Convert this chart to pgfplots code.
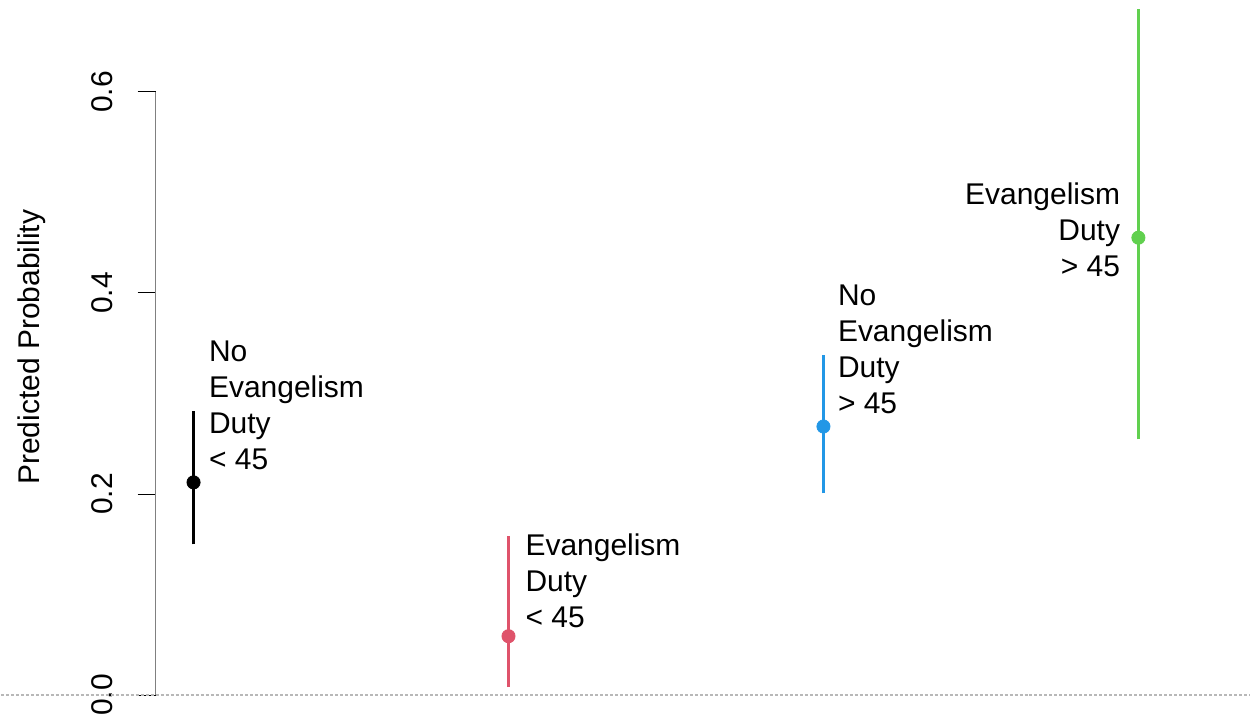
\documentclass[border=0pt]{standalone}
\usepackage{pgfplots}
\pgfplotsset{compat=1.18}
\usepackage{fontspec}
\setmainfont{Liberation Sans}
\definecolor{rred}{HTML}{DF536B}
\definecolor{rblue}{HTML}{2297E6}
\definecolor{rgreen}{HTML}{61D04F}
\begin{document}
\begin{tikzpicture}
\begin{axis}[
  scale only axis,
  width=548pt, height=361.5pt,
  xmin=0.8795, xmax=4.355,
  ymin=-0.0268, ymax=0.6914,
  clip=false,
  axis x line=none,
  axis y line*=left,
  y axis line style={draw=none},
  ytick={0,0.2,0.4,0.6},
  yticklabels={0.0,0.2,0.4,0.6},
  tick align=outside,
  major tick length=9pt,
  ytick style={black, line width=0.5pt},
  yticklabel style={rotate=90, anchor=south, font=\fontsize{15}{17}\selectfont},
  yticklabel shift=9pt,
  /pgf/number format/assume math mode=true,
  ylabel={Predicted Probability},
  every axis y label/.style={at={(axis cs:0.486,0.346)}, rotate=90, anchor=center, font=\fontsize{15}{17}\selectfont},
]
% y axis line (0 to 0.6)
\addplot[gray, line width=0.6pt, forget plot] coordinates {(0.8795,0) (0.8795,0.6)};
% dotted zero line
\addplot[black!28, line width=0.8pt, dash pattern=on 1.5pt off 1pt, forget plot] coordinates {(0.388,0) (4.355,0)};
% confidence intervals
\addplot[black, line width=1.1pt] coordinates {(1,0.150) (1,0.2831)};
\addplot[rred, line width=1.1pt] coordinates {(2,0.0079) (2,0.158)};
\addplot[rblue, line width=1.1pt] coordinates {(3,0.2007) (3,0.3387)};
\addplot[rgreen, line width=1.1pt] coordinates {(4,0.2543) (4,0.6824)};
% points
\addplot[only marks, mark=*, mark size=3.3pt, black] coordinates {(1,0.2116)};
\addplot[only marks, mark=*, mark size=3.3pt, rred, mark options={fill=rred}] coordinates {(2,0.0586)};
\addplot[only marks, mark=*, mark size=3.3pt, rblue, mark options={fill=rblue}] coordinates {(3,0.2672)};
\addplot[only marks, mark=*, mark size=3.3pt, rgreen, mark options={fill=rgreen}] coordinates {(4,0.455)};
% labels
\node[anchor=west, align=left, inner sep=0pt, font=\fontsize{15}{18}\selectfont] at (axis cs:1.048,0.2886) {No\\Evangelism\\Duty\\< 45};
\node[anchor=west, align=left, inner sep=0pt, font=\fontsize{15}{18}\selectfont] at (axis cs:2.053,0.1134) {Evangelism\\Duty\\< 45};
\node[anchor=west, align=left, inner sep=0pt, font=\fontsize{15}{18}\selectfont] at (axis cs:3.045,0.344) {No\\Evangelism\\Duty\\> 45};
\node[anchor=east, align=right, inner sep=0pt, font=\fontsize{15}{18}\selectfont] at (axis cs:3.943,0.463) {Evangelism\\Duty\\> 45};
\end{axis}
\end{tikzpicture}
\end{document}
